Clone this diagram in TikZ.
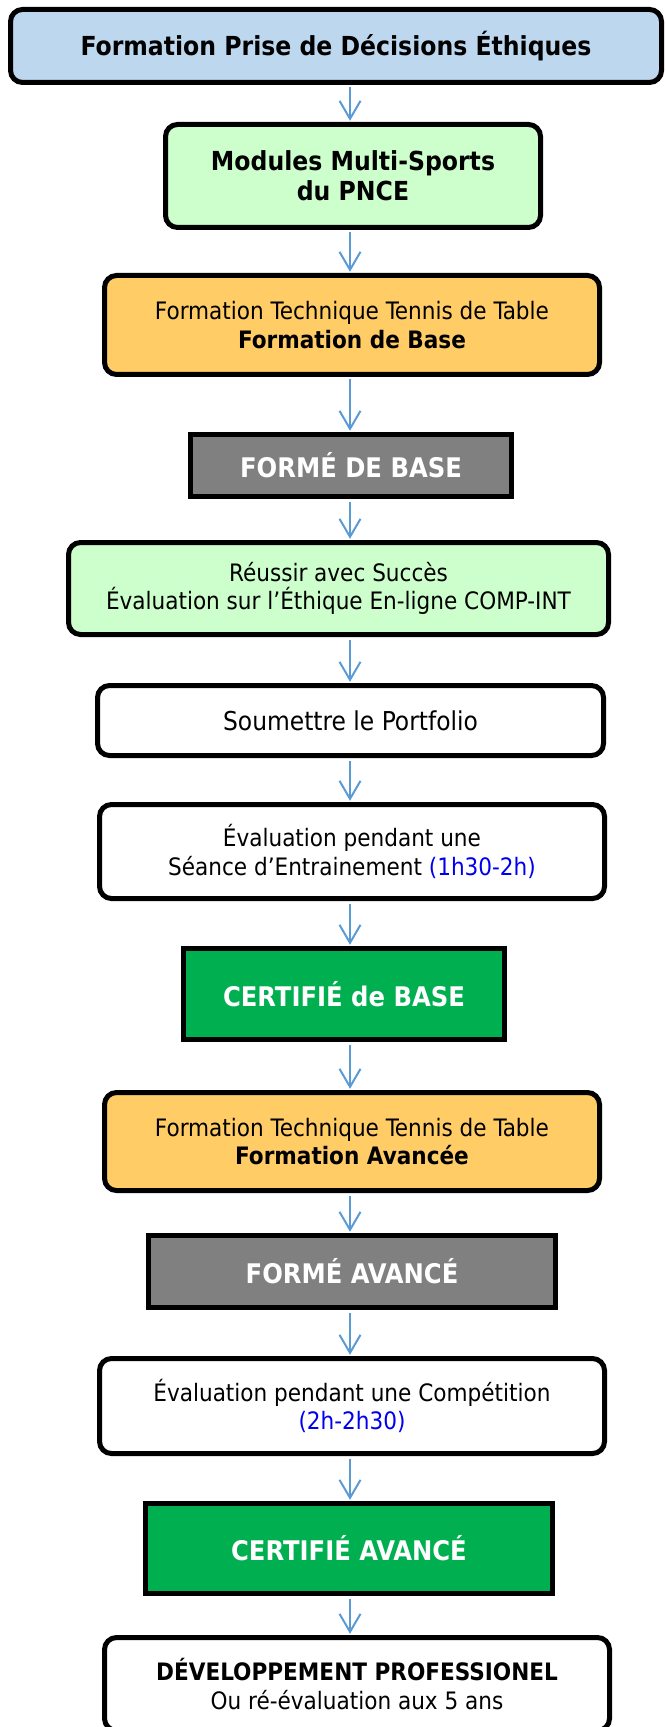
\documentclass[tikz,border=0pt]{standalone}
\usepackage{fontspec}
\setmainfont{DejaVu Sans Condensed}
\usetikzlibrary{arrows.meta}

\definecolor{titleblue}{HTML}{BDD7EE}
\definecolor{palegreen}{HTML}{CCFFCC}
\definecolor{orangefill}{HTML}{FFCC66}
\definecolor{greyfill}{HTML}{808080}
\definecolor{certgreen}{HTML}{00B050}
\definecolor{arrowblue}{HTML}{5B9BD5}
\definecolor{timeblue}{HTML}{0000EE}

\newcommand{\boxfont}{\fontsize{12pt}{14.3pt}\selectfont}
\newcommand{\headfont}{\fontsize{13.1pt}{15pt}\selectfont\bfseries}
\newcommand{\statusfont}{\fontsize{13.5pt}{16pt}\selectfont\bfseries\color{white}}

\begin{document}
\begin{tikzpicture}[x=0.5pt, y=-0.5pt,
	rbox/.style={draw, line width=2.5pt, rounded corners=6pt, align=center, font=\boxfont, inner sep=0pt},
	sbox/.style={draw, line width=2.5pt, align=center, font=\statusfont, inner sep=0pt},
	link/.style={arrowblue, line width=1pt, -{Straight Barb[length=9pt, width=10.5pt]}, shorten <=1.25pt, shorten >=0.6pt}]

	\useasboundingbox (0, 0) rectangle (665, 1727);

	% Training steps

	\node (ethics) [rbox, fill=titleblue, minimum width=325.5pt, minimum height=36.5pt, font=\headfont]
		at (336, 46) {Formation Prise de Décisions Éthiques};
	\node (multi) [rbox, fill=palegreen, minimum width=187.5pt, minimum height=51.5pt, font=\headfont]
		at (353, 176) {Modules Multi-Sports\\du PNCE};
	\node (techbase) [rbox, fill=orangefill, minimum width=247.5pt, minimum height=49.5pt]
		at (352, 325) {Formation Technique Tennis de Table\\\textbf{Formation de Base}};
	\node (formebase) [sbox, fill=greyfill, minimum width=160.5pt, minimum height=31pt]
		at (351, 465.5) {FORMÉ DE BASE};
	\node (online) [rbox, fill=palegreen, minimum width=270pt, minimum height=46pt]
		at (338.5, 588.5) {Réussir avec Succès\\Évaluation sur l’Éthique En-ligne COMP-INT};
	\node (portfolio) [rbox, fill=white, minimum width=253pt, minimum height=35pt, font=\fontsize{13pt}{15pt}\selectfont]
		at (350.5, 720.5) {Soumettre le Portfolio};
	\node (practice) [rbox, fill=white, minimum width=252.5pt, minimum height=47pt]
		at (352, 851.5) {Évaluation pendant une\\Séance d’Entrainement {\color{timeblue}(1h30-2h)}};
	\node (certbase) [sbox, fill=certgreen, minimum width=160.5pt, minimum height=45.5pt]
		at (344, 994) {CERTIFIÉ de BASE};

	% Advanced steps

	\node (techadv) [rbox, fill=orangefill, minimum width=247.5pt, minimum height=49pt]
		at (352, 1141.5) {Formation Technique Tennis de Table\\\textbf{Formation Avancée}};
	\node (formeadv) [sbox, fill=greyfill, minimum width=203.5pt, minimum height=36pt]
		at (352, 1271.5) {FORMÉ AVANCÉ};
	\node (compet) [rbox, fill=white, minimum width=252.5pt, minimum height=47.5pt]
		at (352, 1406) {Évaluation pendant une Compétition\\{\color{timeblue}(2h-2h30)}};
	\node (certadv) [sbox, fill=certgreen, minimum width=203.5pt, minimum height=45pt]
		at (349, 1548.5) {CERTIFIÉ AVANCÉ};
	\node (devpro) [rbox, fill=white, minimum width=252.5pt, minimum height=46.5pt]
		at (357, 1684) {\textbf{DÉVELOPPEMENT PROFESSIONEL}\\Ou ré-évaluation aux 5 ans};

	% Arrows

	\coordinate (axis) at (350, 0);

	\foreach \from/\to in {ethics/multi, multi/techbase, techbase/formebase, formebase/online,
		online/portfolio, portfolio/practice, practice/certbase, certbase/techadv,
		techadv/formeadv, formeadv/compet, compet/certadv, certadv/devpro}
		\draw [link] (\from.south -| axis) -- (\to.north -| axis);

\end{tikzpicture}
\end{document}
